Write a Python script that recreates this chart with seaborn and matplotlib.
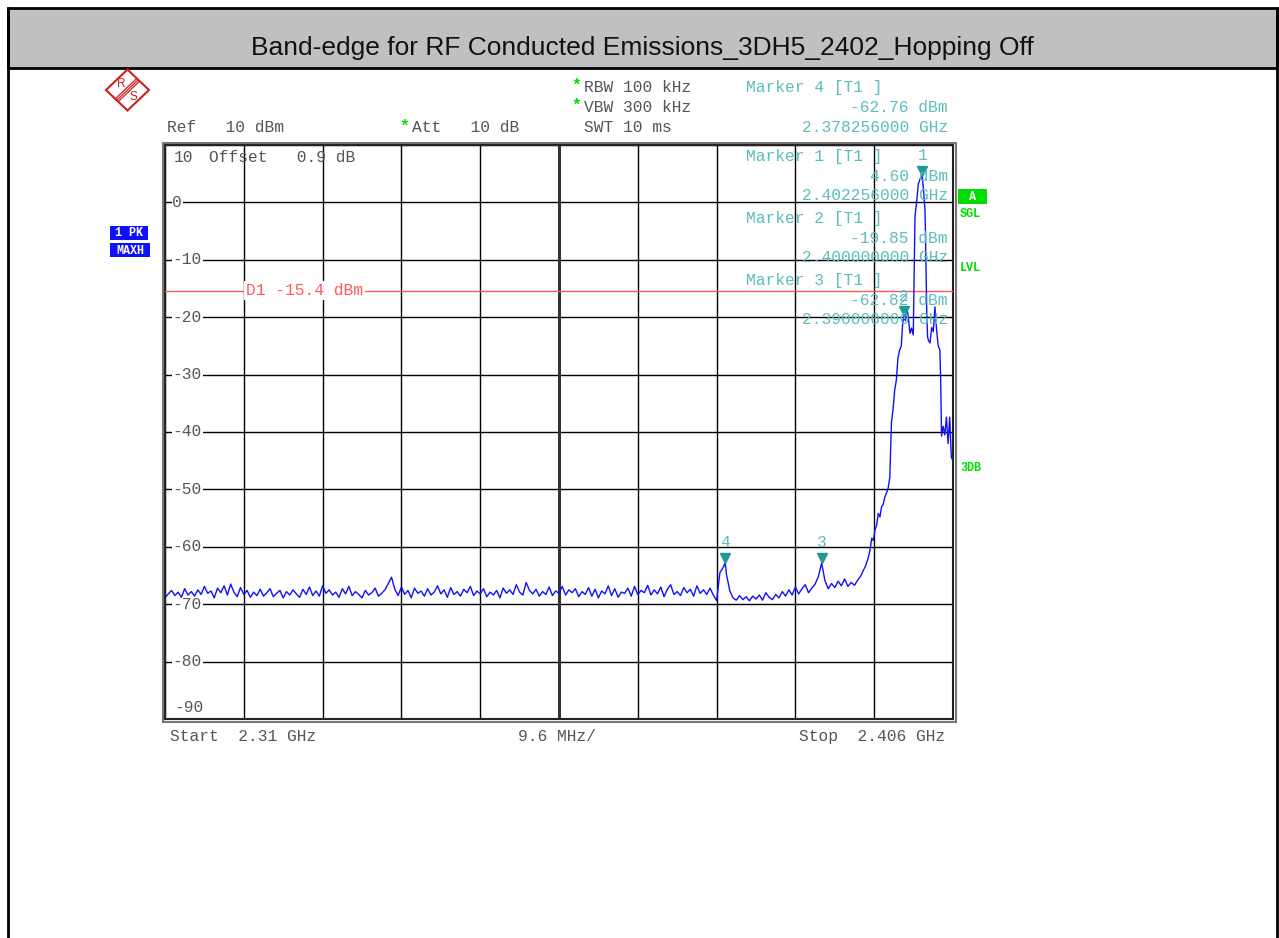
import numpy as np
import pandas as pd
import matplotlib
matplotlib.use("Agg")
import matplotlib.pyplot as plt
import matplotlib.transforms as mtrans
from matplotlib.patches import Rectangle, Polygon
from matplotlib.lines import Line2D
import seaborn as sns

# ---------------- data ----------------
TITLE = "Band-edge for RF Conducted Emissions_3DH5_2402_Hopping Off"
start_mhz, stop_mhz = 2310.0, 2406.0
noise_step_mhz = 0.4
ref_level_dbm, bottom_dbm = 10, -90
y_ticks = [0, -10, -20, -30, -40, -50, -60, -70, -80]

# sweep trace below the carrier (2310 .. 2394.8 MHz, 0.4 MHz spacing)
noise_dbm = [
    -68.9, -68.2, -67.6, -68.5, -67.9, -68.8, -67.3, -68.4, -67.8, -68.6,
    -67.5, -68.3, -66.9, -68.1, -67.7, -68.9, -67.2, -68.0, -66.8, -68.4,
    -66.5, -67.9, -68.7, -67.1, -68.3, -67.6, -68.8, -67.9, -68.5, -67.4,
    -68.6, -68.0, -67.3, -68.7, -68.1, -67.6, -68.9, -67.8, -68.4, -67.5,
    -68.2, -68.8, -67.4, -68.3, -67.0, -68.5, -67.7, -68.6, -66.8, -68.1,
    -67.5, -68.4, -67.9, -68.8, -67.3, -68.2, -66.9, -68.5, -67.8, -68.3,
    -68.9, -67.6, -68.4, -68.0, -67.2, -68.6, -68.1, -67.5, -66.4, -65.3,
    -67.4, -68.5, -67.0, -68.3, -67.6, -68.9, -67.2, -68.1, -67.7, -68.6,
    -67.3, -68.4, -67.9, -66.8, -68.2, -67.5, -68.8, -67.1, -68.3, -67.8,
    -68.6, -67.4, -68.0, -66.9, -68.5, -67.7, -68.2, -67.3, -68.7, -67.9,
    -68.4, -67.6, -68.9, -67.2, -68.1, -67.5, -68.3, -66.6, -67.9, -68.4,
    -66.2, -67.6, -68.2, -67.4, -68.6, -67.8, -68.3, -67.0, -68.5, -67.7,
    -68.1, -66.9, -68.4, -67.5, -68.0, -67.3, -68.7, -67.8, -68.3, -67.1,
    -68.6, -67.4, -68.9, -67.7, -68.2, -66.8, -68.5, -67.3, -68.8, -67.9,
    -68.1, -67.2, -68.6, -66.9, -68.3, -67.6, -68.0, -66.7, -68.4, -67.5,
    -68.2, -67.0, -68.7, -67.4, -66.6, -68.3, -67.8, -68.5, -67.1, -68.0,
    -67.4, -68.6, -66.8, -68.1, -67.5, -68.3, -67.2, -68.4, -69.4, -64.5,
    -63.6, -64.8, -67.6, -68.9, -69.3, -68.5, -69.2, -68.7, -69.4, -68.6,
    -69.1, -68.4, -69.3, -68.0, -68.8, -69.2, -68.3, -68.9, -67.8, -68.6,
    -67.5, -68.4, -67.0, -68.2, -67.3, -66.6, -68.0, -67.2, -66.5, -65.2,
    -62.82, -65.9, -67.3, -66.4, -67.1, -66.0, -66.8, -65.6, -66.9, -66.2,
    -66.7, -65.8, -65.0,
]

# extra sweep points: marker 4 peak and the carrier region (finer detail)
extra_mhz = [
    2378.256,
    2395.0, 2395.3, 2395.66, 2395.9, 2396.1, 2396.3, 2396.5, 2396.7, 2396.9,
    2397.1, 2397.3, 2397.5, 2397.7, 2397.9, 2398.1, 2398.3, 2398.5, 2398.7,
    2398.9, 2399.1, 2399.3, 2399.5, 2399.7, 2399.85, 2400.0, 2400.2, 2400.36,
    2400.55, 2400.76, 2400.95, 2401.16, 2401.37, 2401.58, 2401.77, 2402.0,
    2402.256, 2402.38, 2402.59, 2402.7, 2402.8, 2402.9, 2403.0, 2403.2,
    2403.4, 2403.6, 2403.8, 2404.0, 2404.2, 2404.4, 2404.5, 2404.6, 2404.8,
    2405.0, 2405.2, 2405.4, 2405.6, 2405.8, 2406.0,
]
extra_dbm = [
    -62.76,
    -64.3, -63.5, -62.0, -60.5, -58.5, -58.9, -57.0, -56.2, -54.2,
    -54.8, -53.0, -52.6, -51.3, -50.6, -49.8, -47.9, -38.4, -36.0,
    -32.7, -30.9, -27.0, -25.7, -25.0, -21.5, -19.85, -20.6, -18.2,
    -20.0, -22.8, -21.9, -23.1, -2.5, 0.3, 3.2, 4.1,
    4.60, 2.6, -1.4, -10.0, -19.0, -23.4, -24.0, -24.5,
    -21.8, -22.5, -18.2, -22.2, -25.0, -25.7, -31.0, -40.7, -39.0,
    -40.5, -37.4, -42.0, -37.4, -44.4, -45.0,
]

marker_ids = ["1", "2", "3", "4"]
marker_mhz = [2402.256, 2400.0, 2390.0, 2378.256]
marker_dbm = [4.60, -19.85, -62.82, -62.76]
display_line_dbm = -15.4

# ---------------- build table ----------------
noise_mhz = [start_mhz + noise_step_mhz * i for i in range(len(noise_dbm))]
df = pd.DataFrame({"freq": noise_mhz + extra_mhz, "level": noise_dbm + extra_dbm})
df = df.sort_values("freq").reset_index(drop=True)

# ---------------- style ----------------
W, H = 1279, 938
sns.set_style("white")
plt.rcParams["font.family"] = ["Liberation Mono", "DejaVu Sans Mono"]

fig = plt.figure(figsize=(W / 100, H / 100), dpi=100)


def fx(x):
    return x / W


def fy(y):
    return 1 - y / H


GRAY = "#555555"
TEAL = "#5cbdbd"
TEAL_DARK = "#1f9a96"
GREEN = "#00dd00"
BLUE = "#1010ff"
RED = "#ff5a5a"
MONO = 11.7

# title band + page border
fig.add_artist(Rectangle((fx(8), fy(68)), fx(1269), (60) / H, facecolor="#c0c0c0",
                         edgecolor="black", lw=2, transform=fig.transFigure))
fig.add_artist(Line2D([fx(8), fx(8)], [fy(8), 0], color="black", lw=2, transform=fig.transFigure))
fig.add_artist(Line2D([fx(1277), fx(1277)], [fy(8), 0], color="black", lw=2, transform=fig.transFigure))
fig.text(fx(642), fy(48), TITLE, ha="center", va="center", fontsize=19,
         family=["Liberation Sans Narrow", "Liberation Sans", "DejaVu Sans"], color="#111111")

# axes
L, R, T, B = 165, 953, 145, 719
ax = fig.add_axes([fx(L), fy(B), (R - L) / W, (B - T) / H])
sns.lineplot(data=df, x="freq", y="level", ax=ax, color=BLUE, lw=1.0,
             estimator=None, sort=False, zorder=6)
ax.set_xlim(start_mhz, stop_mhz)
ax.set_ylim(bottom_dbm, ref_level_dbm)
div = (stop_mhz - start_mhz) / 10
ax.set_xticks([start_mhz + div * i for i in range(11)])
ax.set_yticks(list(range(bottom_dbm, ref_level_dbm + 1, 10)))
ax.grid(True, color="black", lw=1.0)
ax.set_axisbelow(True)
ax.tick_params(length=0, labelleft=False, labelbottom=False)
ax.set_xlabel("")
ax.set_ylabel("")
for s in ax.spines.values():
    s.set_color("#222222")
    s.set_linewidth(1.5)
ax.axvline(start_mhz + div * 5, color="#333333", lw=2.2, zorder=1)
# outer frame line
fig.add_artist(Rectangle((fx(L - 2.5), fy(B + 2.5)), (R - L + 5) / W, (B - T + 5) / H,
                         fill=False, edgecolor="#777777", lw=1.5, transform=fig.transFigure))

ytr = ax.get_yaxis_transform()
for v in y_ticks:
    ax.text(0.0095, v, f"{v}", transform=ytr,
            ha="left", va="center", fontsize=MONO, color=GRAY, zorder=4,
            bbox=dict(facecolor="white", edgecolor="none", pad=0.6))
fig.text(fx(174), fy(158), "10", ha="left", va="center", fontsize=MONO, color=GRAY)
fig.text(fx(209), fy(158), "Offset   0.9 dB", ha="left", va="center", fontsize=MONO, color=GRAY)
fig.text(fx(174), fy(707), "-90", ha="left", va="center", fontsize=MONO, color=GRAY)

# display line
ax.axhline(display_line_dbm, color=RED, lw=1.0, zorder=3)
ax.text(start_mhz + div * 1.03, display_line_dbm, f"D1 {display_line_dbm} dBm", ha="left",
        va="center", fontsize=MONO, color=RED, zorder=4,
        bbox=dict(facecolor="white", edgecolor="none", pad=1.5))

# markers
tri = ax.transData + mtrans.ScaledTranslation(0, 5 / 100, fig.dpi_scale_trans)
lab = ax.transData + mtrans.ScaledTranslation(0, 20 / 100, fig.dpi_scale_trans)
ax.plot(marker_mhz, marker_dbm, linestyle="none", marker="v", markersize=7,
        color=TEAL_DARK, transform=tri, zorder=7, clip_on=False)
for mid, mf, md in zip(marker_ids, marker_mhz, marker_dbm):
    ax.text(mf, md, mid, transform=lab, ha="center", va="center", fontsize=MONO,
            color=TEAL, zorder=7)

# header texts
fig.text(fx(167), fy(128), "Ref   10 dBm", ha="left", va="center", fontsize=MONO, color=GRAY)
fig.text(fx(404), fy(126), "*", ha="center", va="center", fontsize=MONO, color=GREEN, weight="bold")
fig.text(fx(412), fy(128), "Att   10 dB", ha="left", va="center", fontsize=MONO, color=GRAY)
fig.text(fx(576), fy(85), "*", ha="center", va="center", fontsize=MONO, color=GREEN, weight="bold")
fig.text(fx(584), fy(87), "RBW 100 kHz", ha="left", va="center", fontsize=MONO, color=GRAY)
fig.text(fx(576), fy(105), "*", ha="center", va="center", fontsize=MONO, color=GREEN, weight="bold")
fig.text(fx(584), fy(107), "VBW 300 kHz", ha="left", va="center", fontsize=MONO, color=GRAY)
fig.text(fx(584), fy(127), "SWT 10 ms", ha="left", va="center", fontsize=MONO, color=GRAY)

# marker readouts (marker 4 in header, 1..3 inside the diagram)
readout_rows = [(4, 87), (1, 156), (2, 218), (3, 280)]
for mnum, y0 in readout_rows:
    k = marker_ids.index(str(mnum))
    fig.text(fx(746), fy(y0), f"Marker {mnum} [T1 ]", ha="left", va="center",
             fontsize=MONO, color=TEAL, zorder=3)
    fig.text(fx(948), fy(y0 + 20), f"{marker_dbm[k]:.2f} dBm", ha="right", va="center",
             fontsize=MONO, color=TEAL, zorder=3)
    fig.text(fx(948), fy(y0 + 40), f"{marker_mhz[k] / 1000:.9f} GHz", ha="right", va="center",
             fontsize=MONO, color=TEAL, zorder=3)

# bottom texts
fig.text(fx(170), fy(736), f"Start  {start_mhz / 1000:g} GHz", ha="left", va="center",
         fontsize=MONO, color=GRAY)
fig.text(fx(557), fy(736), f"{div:g} MHz/", ha="center", va="center", fontsize=MONO, color=GRAY)
fig.text(fx(945), fy(736), f"Stop  {stop_mhz / 1000:g} GHz", ha="right", va="center",
         fontsize=MONO, color=GRAY)

# left status boxes
for txt, y0, y1, x1 in [("1 PK", 226, 240, 148), ("MAXH", 243, 257, 150)]:
    fig.add_artist(Rectangle((fx(110), fy(y1)), (x1 - 110) / W, (y1 - y0) / H,
                             facecolor=BLUE, edgecolor="none", transform=fig.transFigure))
    fig.text(fx((110 + x1) / 2), fy((y0 + y1) / 2 + 0.5), txt, ha="center", va="center",
             fontsize=8.5, color="white", weight="bold",
             family=["Liberation Mono", "DejaVu Sans Mono"])

# right status labels
fig.add_artist(Rectangle((fx(958), fy(204)), 29 / W, 15 / H, facecolor=GREEN,
                         edgecolor="none", transform=fig.transFigure))
fig.text(fx(972.5), fy(196.5), "A", ha="center", va="center", fontsize=8.5, color="white",
         weight="bold")
for txt, y0 in [("SGL", 214), ("LVL", 268), ("3DB", 468)]:
    fig.text(fx(960), fy(y0), txt, ha="left", va="center", fontsize=8.5, color=GREEN,
             weight="bold")

# R&S logo
cx, cy, hw, hh = 127.5, 90, 21.5, 20.5
fig.add_artist(Polygon([(fx(cx), fy(cy - hh)), (fx(cx + hw), fy(cy)), (fx(cx), fy(cy + hh)),
                        (fx(cx - hw), fy(cy))], closed=True, fill=False, edgecolor="#cc2020",
                       lw=1.5, transform=fig.transFigure))
for d in (-2, 0, 2):
    fig.add_artist(Line2D([fx(cx + hw / 2 + d * 0.7), fx(cx - hw / 2 + d * 0.7)],
                          [fy(cy - hh / 2 + d * 0.7), fy(cy + hh / 2 + d * 0.7)],
                          color="#cc2020", lw=0.9, transform=fig.transFigure))
fig.text(fx(121.5), fy(84), "R", ha="center", va="center", fontsize=8.5, color="#cc2020",
         family=["Liberation Sans", "DejaVu Sans"])
fig.text(fx(133.5), fy(97), "S", ha="center", va="center", fontsize=8.5, color="#cc2020",
         family=["Liberation Sans", "DejaVu Sans"])

fig.savefig("out.png", dpi=100, facecolor="white")
